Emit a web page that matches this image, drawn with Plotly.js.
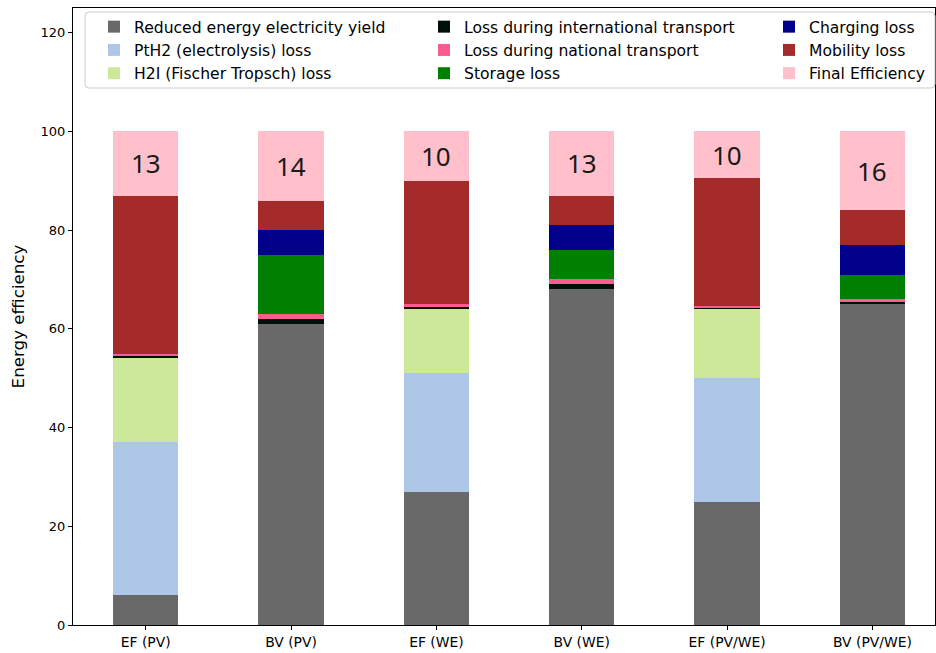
<!DOCTYPE html>
<html>
<head>
<meta charset="utf-8">
<script src="https://cdn.plot.ly/plotly-3.0.1.min.js"></script>
<style>html,body{margin:0;padding:0;background:#fff;}#chart{width:936px;height:653px;}</style>
</head>
<body>
<div id="chart"></div>
<script>
// ---- data ----
var categories = ['EF (PV)', 'BV (PV)', 'EF (WE)', 'BV (WE)', 'EF (PV/WE)', 'BV (PV/WE)'];
var reducedYield = [6, 61, 27, 68, 25, 65];
var pth2Loss     = [31, 0, 24, 0, 25, 0];
var h2iLoss      = [17, 0, 13, 0, 14, 0];
var intlLoss     = [0.5, 1, 0.5, 1, 0.3, 0.5];
var natLoss      = [0.5, 1, 0.5, 1, 0.3, 0.5];
var storageLoss  = [0, 12, 0, 6, 0, 5];
var chargingLoss = [0, 5, 0, 5, 0, 6];
var mobilityLoss = [32, 6, 25, 6, 25.9, 7];
var finalEff     = [13, 14, 10, 13, 9.5, 16];
var finalLabels  = ['13', '14', '10', '13', '10', '16'];
var yTicks = [0, 20, 40, 60, 80, 100, 120];

var seriesNames = ['Reduced energy electricity yield', 'PtH2 (electrolysis) loss', 'H2I (Fischer Tropsch) loss',
  'Loss during international transport', 'Loss during national transport', 'Storage loss',
  'Charging loss', 'Mobility loss', 'Final Efficiency'];
var seriesValues = [reducedYield, pth2Loss, h2iLoss, intlLoss, natLoss, storageLoss, chargingLoss, mobilityLoss, finalEff];
var seriesColors = ['#696969', '#aec7e8', '#cce899', '#020f08', '#fb5b8f', '#008000', '#00008b', '#a52a2a', '#ffc0cb'];
var legendIds = ['legend', 'legend', 'legend', 'legend2', 'legend2', 'legend2', 'legend3', 'legend3', 'legend3'];

var traces = seriesNames.map(function (n, i) {
  return {
    type: 'bar', name: n, x: categories, y: seriesValues[i], width: 0.45,
    marker: {color: seriesColors[i], line: {width: 0}},
    legend: legendIds[i], legendgroup: 'g' + i, hoverinfo: 'none'
  };
});

// label positions: centre of final efficiency segment
var annotations = categories.map(function (c, j) {
  var base = 0;
  for (var k = 0; k < seriesValues.length - 1; k++) base += seriesValues[k][j];
  return {x: c, y: base + finalEff[j] / 2, xref: 'x', yref: 'y', text: finalLabels[j], showarrow: false,
    font: {family: 'Noto Sans', size: 26, color: '#1a1a1a'}};
});

var W = 936, H = 653, ml = 73, mr = 1, mt = 8, mb = 28;
var pw = W - ml - mr, ph = H - mt - mb;
function px(x) { return (x - ml) / pw; }
function py(y) { return (H - mb - y) / ph; }

var bx0 = px(85), bx1 = px(935), by0 = py(12), by1 = py(88), rx = 4 / pw, ry = 4 / ph;
var boxPath = 'M' + (bx0 + rx) + ',' + by0 + ' L' + (bx1 - rx) + ',' + by0 + ' Q' + bx1 + ',' + by0 + ' ' + bx1 + ',' + (by0 - ry) +
  ' L' + bx1 + ',' + (by1 + ry) + ' Q' + bx1 + ',' + by1 + ' ' + (bx1 - rx) + ',' + by1 +
  ' L' + (bx0 + rx) + ',' + by1 + ' Q' + bx0 + ',' + by1 + ' ' + bx0 + ',' + (by1 + ry) +
  ' L' + bx0 + ',' + (by0 - ry) + ' Q' + bx0 + ',' + by0 + ' ' + (bx0 + rx) + ',' + by0 + ' Z';

var legFont = {family: 'DejaVu Sans', size: 15.6, color: '#000'};
function leg(xpix) {
  return {x: px(xpix), y: py(10), xanchor: 'left', yanchor: 'top', orientation: 'v', bgcolor: 'rgba(0,0,0,0)',
    borderwidth: 0, font: legFont, tracegroupgap: 0, itemclick: false, itemdoubleclick: false};
}

var layout = {
  width: W, height: H,
  margin: {l: ml, r: mr, t: mt, b: mb, pad: 0},
  paper_bgcolor: '#fff', plot_bgcolor: '#fff',
  barmode: 'stack', bargap: 0,
  showlegend: true,
  font: {family: 'DejaVu Sans', size: 13, color: '#000'},
  xaxis: {type: 'category', range: [-0.5, 5.43], showline: true, mirror: true, linecolor: '#000', linewidth: 1,
    ticks: 'outside', ticklen: 4, tickcolor: '#000', showgrid: false, zeroline: false,
    tickfont: {family: 'DejaVu Sans', size: 13.9, color: '#000'}, fixedrange: true},
  yaxis: {range: [0, 125], tickvals: yTicks, showline: true, mirror: true, linecolor: '#000', linewidth: 1,
    ticks: 'outside', ticklen: 4, tickcolor: '#000', showgrid: false, zeroline: false,
    tickfont: {family: 'DejaVu Sans', size: 13, color: '#000'},
    title: {text: 'Energy efficiency', font: {family: 'DejaVu Sans', size: 16.7, color: '#000'}, standoff: 11}, fixedrange: true},
  legend: leg(94), legend2: leg(424), legend3: leg(769),
  shapes: [{type: 'path', xref: 'paper', yref: 'paper', path: boxPath, fillcolor: 'rgba(255,255,255,0.85)',
    line: {color: '#cccccc', width: 1}, layer: 'above'}],
  annotations: annotations
};

Plotly.newPlot('chart', traces, layout, {displayModeBar: false, staticPlot: true});
</script>
</body>
</html>
